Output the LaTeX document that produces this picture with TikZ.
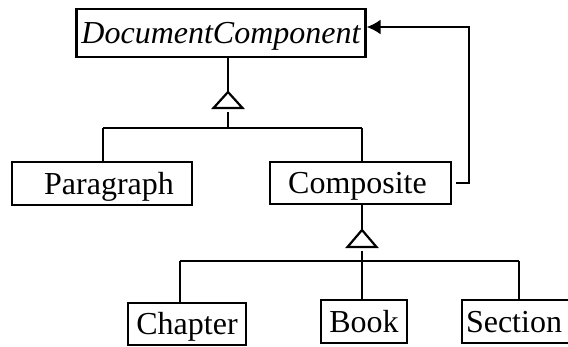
\documentclass[tikz,border=0pt]{standalone}
\usepackage{fontspec}
\setmainfont{Liberation Serif}
\usetikzlibrary{arrows.meta}

\tikzset{
  cls/.style={draw, line width=2.2pt, inner sep=0pt, text height=21pt, text depth=0pt,
              font=\fontsize{32}{36}\selectfont},
  conn/.style={line width=2.2pt},
  gen/.style={line width=2.2pt, line join=miter, fill=white},
}

\begin{document}
\begin{tikzpicture}[x=1pt, y=-1pt]
  \clip (0,0) rectangle (568,346);

  % classes
  \node[cls, minimum width=289pt, minimum height=48pt] (dc) at (221,33) {\itshape DocumentComponent};
  \node[cls, minimum width=180pt, minimum height=43pt] (para) at (102,183.5) {\hspace*{14pt}Paragraph};
  \node[cls, minimum width=181pt, minimum height=42pt] (comp) at (360.5,183) {Composite\hspace*{6pt}};
  \node[cls, minimum width=118pt, minimum height=42pt] (chap) at (187,324) {Chapter};
  \node[cls, minimum width=86pt,  minimum height=43pt] (book) at (364,321.5) {Book};
  \node[cls, minimum width=112pt, minimum height=43pt] (sect) at (518,321.5) {\hspace*{-8pt}Section};

  % generalization: DocumentComponent <- Paragraph, Composite
  \coordinate (t1) at (228,92);
  \coordinate (t1b) at (228,112);
  \coordinate (bus1) at (228,128);
  \draw[conn] (dc.south -| t1) -- (t1);
  \draw[gen] (t1) -- ++(-14.5,16) -- ++(29,0) -- cycle;
  \draw[conn] (t1b) -- (bus1);
  \draw[conn] (bus1 -| 103,0) -- (bus1 -| 362,0);
  \draw[conn] (bus1 -| 103,0) -- (para.north -| 103,0);
  \draw[conn] (bus1 -| 362,0) -- (comp.north -| 362,0);

  % aggregation back to DocumentComponent
  \coordinate (up) at (469,27);
  \draw[conn, -{Latex[length=14pt, width=15pt]}]
    ([xshift=4pt]comp.east) -- (comp.east -| up) -- (up) -- (dc.east |- up);

  % generalization: Composite <- Chapter, Book, Section
  \coordinate (t2) at (362,230);
  \coordinate (t2b) at (362,251);
  \coordinate (bus2) at (362,261);
  \draw[conn] (comp.south -| t2) -- (t2);
  \draw[gen] (t2) -- ++(-14.5,17) -- ++(29,0) -- cycle;
  \draw[conn] (t2b) -- (bus2);
  \draw[conn] (bus2 -| 180,0) -- (bus2 -| 519,0);
  \draw[conn] (bus2 -| 180,0) -- (chap.north -| 180,0);
  \draw[conn] (bus2) -- (book.north -| bus2);
  \draw[conn] (bus2 -| 519,0) -- (sect.north -| 519,0);
\end{tikzpicture}
\end{document}
